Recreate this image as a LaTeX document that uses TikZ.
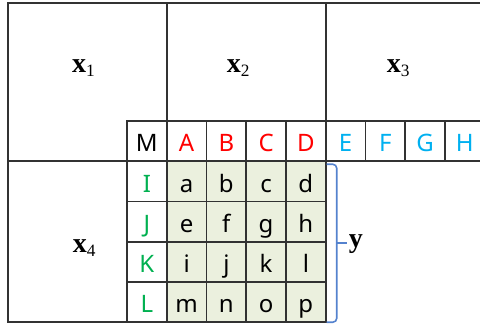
\documentclass[tikz,border=0pt]{standalone}
\usepackage{fontspec}
\setmainfont{Liberation Serif}
\newfontfamily\cellfont{Noto Sans}
\usetikzlibrary{calc}
\definecolor{linegray}{RGB}{50,50,50}
\definecolor{cellfill}{RGB}{235,240,222}
\definecolor{cred}{RGB}{255,0,0}
\definecolor{cblue}{RGB}{0,176,240}
\definecolor{cgreen}{RGB}{0,176,80}
\definecolor{bracecol}{RGB}{84,130,206}
\newcommand{\vlab}[2]{{\fontsize{21}{21}\selectfont\bfseries #1}\raisebox{-3pt}{\fontsize{13}{13}\selectfont #2}}
\begin{document}
\begin{tikzpicture}[x=0.75pt,y=-0.75pt,
  frame/.style={draw=linegray, line width=1.4pt, inner sep=0pt, outer sep=0pt, anchor=north west},
  region/.style={frame, minimum width={158.75*0.75pt}, minimum height={158.25*0.75pt}},
  cell/.style={frame, minimum width={39.75*0.75pt}, minimum height={40.25*0.75pt},
    font=\cellfont\fontsize{18}{18}\selectfont, text height=16pt, text depth=0pt},
  data/.style={cell, fill=cellfill},
  vlabel/.style={anchor=base west, inner sep=0pt, outer sep=0pt},
  brace/.style={draw=bracecol, line width=1.2pt, rounded corners=3pt}
]
\useasboundingbox (0,0) rectangle (480,325);
\clip (0,0) rectangle (480,325);
% regions
\node[region] (r1) at (8,3) {};
\node[region] (r2) at (166.75,3) {};
\node[region] (r3) at (325.75,3) {};
\node[region, minimum height={161*0.75pt}] (r4) at (8,161.25) {};
% header row
\node[cell] (M) at (127,121) {M};
\node[cell, text=cred] (A) at (166.75,121) {A};
\node[cell, text=cred] (B) at (206.5,121) {B};
\node[cell, text=cred] (C) at (246.25,121) {C};
\node[cell, text=cred] (D) at (286,121) {D};
\node[cell, text=cblue] (E) at (325.75,121) {E};
\node[cell, text=cblue] (F) at (365.5,121) {F};
\node[cell, text=cblue] (G) at (405.25,121) {G};
\node[cell, text=cblue] (H) at (445,121) {H};
% row headers
\node[cell, text=cgreen] (I) at (127,161.25) {I};
\node[cell, text=cgreen] (J) at (127,201.5) {J};
\node[cell, text=cgreen] (K) at (127,241.75) {K};
\node[cell, text=cgreen] (L) at (127,282) {L};
% data
\node[data] (a) at (166.75,161.25) {a};
\node[data] (b) at (206.5,161.25) {b};
\node[data] (c) at (246.25,161.25) {c};
\node[data] (d) at (286,161.25) {d};
\node[data] (e) at (166.75,201.5) {e};
\node[data] (f) at (206.5,201.5) {f};
\node[data] (g) at (246.25,201.5) {g};
\node[data] (h) at (286,201.5) {h};
\node[data] (i) at (166.75,241.75) {i};
\node[data] (j) at (206.5,241.75) {j};
\node[data] (k) at (246.25,241.75) {k};
\node[data] (l) at (286,241.75) {l};
\node[data] (m) at (166.75,282) {m};
\node[data] (n) at (206.5,282) {n};
\node[data] (o) at (246.25,282) {o};
\node[data] (p) at (286,282) {p};
% region labels
\node[vlabel] (x1) at (72,72) {\vlab{x}{1}};
\node[vlabel] (x2) at (227,72) {\vlab{x}{2}};
\node[vlabel] (x3) at (387,72) {\vlab{x}{3}};
\node[vlabel] (x4) at (73,252) {\vlab{x}{4}};
% brace
\coordinate (btop) at ($(d.north east)+(1,3)$);
\coordinate (bbot) at ($(p.south east)+(1,0)$);
\coordinate (bmid) at ($(btop)!0.5!(bbot)+(10,0)$);
\draw[brace] (btop) -- ++(10,0) |- (bbot);
\node[vlabel] (ylab) at ($(bmid)+(12,4.5)$) {\fontsize{21}{21}\selectfont\bfseries y};
\draw[draw=bracecol, line width=1.2pt] (bmid) -- ($(bmid)+(10,0)$);
\end{tikzpicture}
\end{document}
